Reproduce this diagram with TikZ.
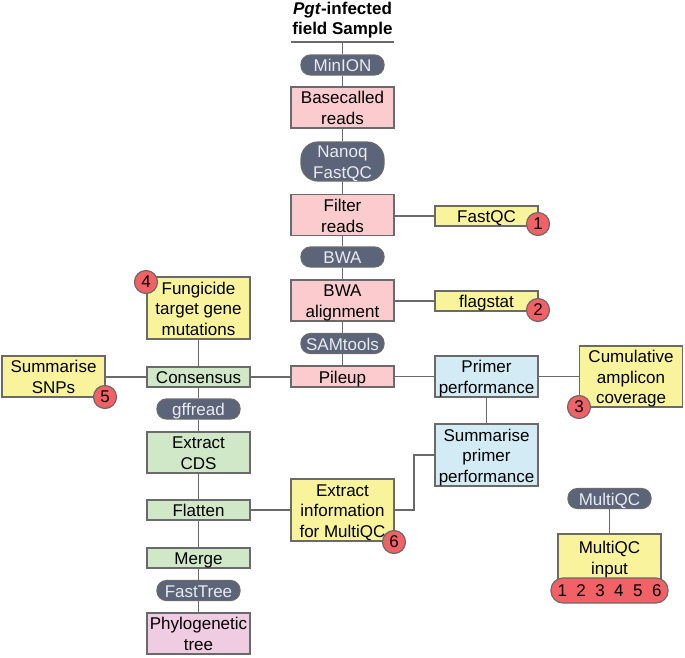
\documentclass[tikz,border=0pt]{standalone}
\usepackage{fontspec}
\setmainfont{Liberation Sans}
\definecolor{edgegrey}{HTML}{6A6A6A}
\definecolor{pinkfill}{HTML}{FBCBCE}
\definecolor{yellowfill}{HTML}{F9F39B}
\definecolor{greenfill}{HTML}{D0E8C7}
\definecolor{bluefill}{HTML}{D2EBF5}
\definecolor{purplefill}{HTML}{F0CCE2}
\definecolor{toolfill}{HTML}{5B6478}
\definecolor{toolgrey}{HTML}{E8EBF0}
\definecolor{badgefill}{HTML}{F26166}
% evens out the text height of a node with several lines
\newcommand\lines[1]{\rule{0pt}{17pt}#1\rule[-3.6pt]{0pt}{3.6pt}}
\tikzset{
  plain/.style={font=\fontsize{17}{20.7}\selectfont,align=center,inner sep=0pt},
  even/.style={plain,inner ysep=-2pt,
    execute at begin node=\rule{0pt}{16.6pt},execute at end node=\rule[-3.6pt]{0pt}{3.6pt}},
  base/.style={even,draw=edgegrey,line width=1.2pt,minimum width=103pt},
  pinkbox/.style={base,fill=pinkfill},
  yellowbox/.style={base,fill=yellowfill},
  greenbox/.style={base,fill=greenfill},
  bluebox/.style={base,fill=bluefill},
  purplebox/.style={base,fill=purplefill},
  tool/.style={base,fill=toolfill,text=toolgrey,minimum width=83pt,minimum height=20pt,rounded corners=9.5pt},
  badge/.style={plain,circle,draw=edgegrey,line width=1.2pt,fill=badgefill,minimum size=23pt},
  link/.style={draw=edgegrey,line width=1.2pt}
}
\begin{document}
\begin{tikzpicture}[x=1pt,y=-1pt]
  \useasboundingbox (0,0) rectangle (685,657);
  % middle column
  \node[even,minimum width=103pt,minimum height=47pt,font=\fontsize{17}{20.7}\selectfont\bfseries] (sample) at (342.5,18.5) {\rule{0pt}{15.3pt}\textit{Pgt}-infected\\field Sample};
  \node[tool] (minion) at (342.5,65) {MinION};
  \node[pinkbox,minimum height=41pt] (basecalled) at (342.5,107.5) {\lines{Basecalled\\reads}};
  \node[tool,minimum height=39pt,rounded corners=17pt] (nanoq) at (342.5,161.5) {\lines{Nanoq\\FastQC}};
  \node[pinkbox,minimum height=41pt] (filter) at (342.5,215) {\lines{Filter\\reads}};
  \node[tool] (bwa) at (342.5,257) {BWA};
  \node[pinkbox,minimum height=41pt] (alignment) at (342.5,300.5) {\lines{BWA\\alignment}};
  \node[tool] (samtools) at (342.5,343.5) {SAMtools};
  \node[pinkbox,minimum height=21pt] (pileup) at (342.5,376.5) {Pileup};
  \node[yellowbox,minimum height=62pt] (extractinfo) at (342.5,510) {\lines{Extract\\information\\for MultiQC}};
  % right columns
  \node[yellowbox,minimum height=20pt] (fastqc) at (486.5,216) {FastQC};
  \node[yellowbox,minimum height=20pt] (flagstat) at (486.5,301) {flagstat};
  \node[bluebox,minimum height=41pt] (primer) at (486.5,376.5) {\lines{Primer\\performance}};
  \node[bluebox,minimum height=62pt] (summprimer) at (486.5,455) {\lines{Summarise\\primer\\performance}};
  \node[yellowbox,minimum height=61pt] (cumulative) at (631,376.5) {\lines{Cumulative\\amplicon\\coverage}};
  \node[tool] (multiqc) at (609.5,498.5) {MultiQC};
  \node[yellowbox,minimum height=46pt] (mqcinput) at (609.5,557) {\lines{MultiQC\\input}};
  \node[plain,draw=edgegrey,line width=1.2pt,fill=badgefill,minimum width=117pt,minimum height=25pt,rounded corners=12pt] (mqcbadge) at (609.5,590.5) {1~~2~~3~~4~~5~~6};
  % left column
  \node[yellowbox,minimum height=62pt] (fungicide) at (198.5,308) {\lines{Fungicide\\target gene\\mutations}};
  \node[yellowbox,minimum height=41pt] (snps) at (53.5,376.5) {\lines{Summarise\\SNPs}};
  \node[greenbox,minimum height=20pt] (consensus) at (198.5,377) {Consensus};
  \node[tool] (gffread) at (198.5,409) {gffread};
  \node[greenbox,minimum height=41pt] (cds) at (198.5,452.5) {\lines{Extract\\CDS}};
  \node[greenbox,minimum height=20pt] (flatten) at (198.5,510) {Flatten};
  \node[greenbox,minimum height=20pt] (merge) at (198.5,558) {Merge};
  \node[tool] (fasttree) at (198.5,590.5) {FastTree};
  \node[purplebox,minimum height=41pt] (phylo) at (198.5,633.5) {\lines{Phylogenetic\\tree}};
  % numbered badges
  \node[badge] (b1) at (538,224) {1};
  \node[badge] (b2) at (538,310) {2};
  \node[badge] (b3) at (579,407) {3};
  \node[badge] (b4) at (146,282) {4};
  \node[badge] (b5) at (105,397) {5};
  \node[badge] (b6) at (394,542) {6};
  \begin{scope}[-]
    \draw[edgegrey,line width=2.4pt] (sample.south west) to (sample.south east);
    \draw[link] (sample) to (minion);
    \draw[link] (minion) to (basecalled);
    \draw[link] (basecalled) to (nanoq);
    \draw[link] (nanoq) to (filter);
    \draw[link] (filter) to (bwa);
    \draw[link] (bwa) to (alignment);
    \draw[link] (alignment) to (samtools);
    \draw[link] (samtools) to (pileup);
    \draw[link] (filter.east |- fastqc) to (fastqc);
    \draw[link] (alignment.east |- flagstat) to (flagstat);
    \draw[link] (pileup) to (primer);
    \draw[link] (primer) to (cumulative.west |- primer);
    \draw[link] (primer) to (summprimer);
    \draw[link] (summprimer.west) -- ++(-20.5,0) |- (extractinfo.east);
    \draw[link] (multiqc) to (mqcinput);
    \draw[link] (consensus) to (pileup.west |- consensus);
    \draw[link] (snps.east |- consensus) to (consensus);
    \draw[link] (fungicide) to (consensus);
    \draw[link] (consensus) to (gffread);
    \draw[link] (gffread) to (cds);
    \draw[link] (cds) to (flatten);
    \draw[link] (flatten) to (extractinfo);
    \draw[link] (flatten) to (merge);
    \draw[link] (merge) to (fasttree);
    \draw[link] (fasttree) to (phylo);
  \end{scope}
\end{tikzpicture}
\end{document}
